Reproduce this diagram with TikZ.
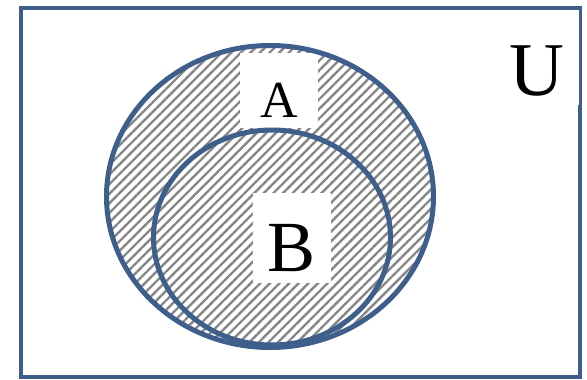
\documentclass[tikz,border=0pt]{standalone}
\usepackage{fontspec}
\setmainfont{Liberation Serif}
\usetikzlibrary{patterns.meta}
\definecolor{vennblue}{RGB}{62,94,140}
\definecolor{hatchgray}{RGB}{135,135,135}
\tikzset{
  setline/.style={draw=vennblue, line width=5pt},
  frame/.style={draw=vennblue, line width=4pt},
  hatch/.style={pattern={Lines[angle=45,distance=6.8pt,line width=2.4pt]}, pattern color=hatchgray},
  lbl/.style={fill=white, inner sep=0pt, anchor=base},
}

\begin{document}
\begin{tikzpicture}[x=1pt,y=-1pt]
  \useasboundingbox (0,0) rectangle (587,380);
  % shaded set A (B included)
  \fill[hatch] (270,196.5) ellipse [x radius=163.5, y radius=151];
  \node[lbl, font=\fontsize{52}{52}\selectfont, minimum width=78pt,
        text height=64pt, text depth=11pt] (labA) at (279,117) {A};
  \node[lbl, font=\fontsize{72}{72}\selectfont, minimum width=78pt,
        text height=78pt, text depth=12pt] (labB) at (292,271) {B};
  % outlines
  \draw[setline] (270,196.5) ellipse [x radius=163.5, y radius=151];
  \draw[setline] (272,237.5) ellipse [x radius=118.5, y radius=107.5];
  \draw[frame] (20.5,8) rectangle (580,377);
  \node[lbl, font=\fontsize{76}{76}\selectfont, minimum width=84pt,
        text height=85pt, text depth=10pt] (labU) at (537,95) {U};
\end{tikzpicture}
\end{document}
